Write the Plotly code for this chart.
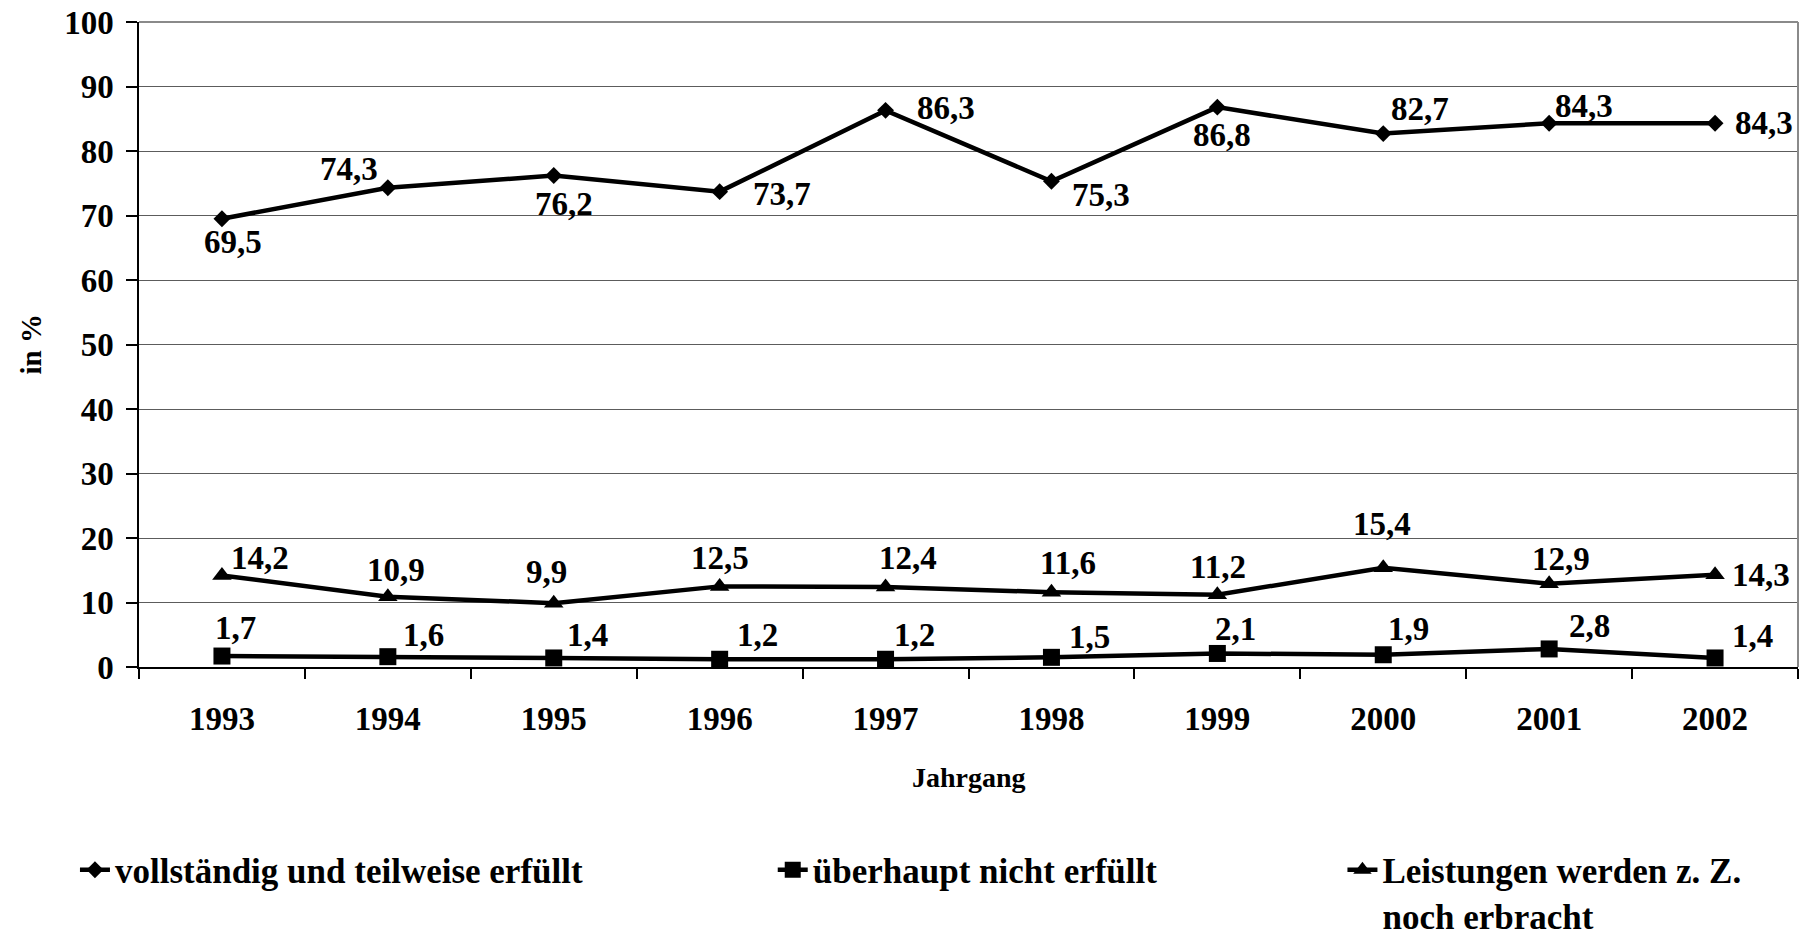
import plotly.graph_objects as go

years = ["1993", "1994", "1995", "1996", "1997", "1998", "1999", "2000", "2001", "2002"]
erfuellt = [69.5, 74.3, 76.2, 73.7, 86.3, 75.3, 86.8, 82.7, 84.3, 84.3]
nicht_erfuellt = [1.7, 1.6, 1.4, 1.2, 1.2, 1.5, 2.1, 1.9, 2.8, 1.4]
noch_erbracht = [14.2, 10.9, 9.9, 12.5, 12.4, 11.6, 11.2, 15.4, 12.9, 14.3]

names = [
    "vollständig und teilweise erfüllt",
    "überhaupt nicht erfüllt",
    "Leistungen werden z. Z.<br>noch erbracht",
]

# label offsets in pixels (dx right, dy down) per point
off_erfuellt = [(11, 23), (-39, -19), (10, 28), (62, 2), (60, -2), (50, 14), (5, 28), (37, -25), (35, -17), (49, 0)]
off_nicht = [(14, -28), (36, -22), (34, -23), (38, -24), (29, -24), (38, -20), (18, -24), (25, -26), (40, -23), (37, -22)]
off_noch = [(38, -17), (8, -27), (-7, -31), (0, -28), (22, -29), (17, -29), (1, -28), (-1, -44), (12, -25), (46, 0)]

FONT = "Liberation Serif"

fig = go.Figure()
fig.add_trace(go.Scatter(
    x=years, y=erfuellt, name=names[0], mode="lines+markers",
    line=dict(color="black", width=4.5),
    marker=dict(symbol="diamond", size=13, color="black"),
    legend="legend",
))
fig.add_trace(go.Scatter(
    x=years, y=nicht_erfuellt, name=names[1], mode="lines+markers",
    line=dict(color="black", width=4.5),
    marker=dict(symbol="square", size=17, color="black"),
    legend="legend2",
))
fig.add_trace(go.Scatter(
    x=years, y=noch_erbracht, name=names[2], mode="lines+markers",
    line=dict(color="black", width=4.5),
    marker=dict(symbol="triangle-up", size=17, color="black"),
    legend="legend3",
))


def fmt(v):
    return f"{v:.1f}".replace(".", ",")


annotations = []
for series, offs in ((erfuellt, off_erfuellt), (nicht_erfuellt, off_nicht), (noch_erbracht, off_noch)):
    for i, (v, (dx, dy)) in enumerate(zip(series, offs)):
        # category index i on the x axis
        annotations.append(dict(
            x=i, y=v, xref="x", yref="y", text=fmt(v), showarrow=False,
            xshift=dx, yshift=-dy, xanchor="center", yanchor="middle",
            font=dict(family=FONT, size=33, color="black", weight="bold"),
        ))

# axis titles
annotations.append(dict(
    x=0.5, y=-0.172, xref="paper", yref="paper", text="Jahrgang", showarrow=False,
    xanchor="center", yanchor="middle",
    font=dict(family=FONT, size=28, color="black", weight="bold"),
))
annotations.append(dict(
    x=-0.0657, y=0.5, xref="paper", yref="paper", text="in %", showarrow=False,
    xanchor="center", yanchor="middle", textangle=-90,
    font=dict(family=FONT, size=29, color="black", weight="bold"),
))

legend_font = dict(family=FONT, size=35, color="black", weight="bold")
legend_common = dict(
    orientation="v", xanchor="left", yanchor="top", bgcolor="rgba(0,0,0,0)",
    borderwidth=0, font=legend_font, valign="top", itemclick=False, itemdoubleclick=False,
)

fig.update_layout(
    width=1809, height=936,
    margin=dict(l=139, r=11, t=22, b=269, autoexpand=False),
    paper_bgcolor="white", plot_bgcolor="white",
    font=dict(family=FONT, size=33, color="black", weight="bold"),
    showlegend=True,
    legend=dict(x=-0.0386, y=-0.269, **legend_common),
    legend2=dict(x=0.382, y=-0.269, **legend_common),
    legend3=dict(x=0.7254, y=-0.269, **legend_common),
    annotations=annotations,
    shapes=[
        dict(type="line", xref="paper", yref="paper", x0=1, x1=1, y0=0, y1=1,
             line=dict(color="#8a8a8a", width=2)),
        dict(type="line", xref="paper", yref="paper", x0=0, x1=1, y0=1, y1=1,
             line=dict(color="#8a8a8a", width=2)),
    ],
)

fig.update_xaxes(
    type="category", categoryorder="array", categoryarray=years,
    range=[-0.5, len(years) - 0.5], autorange=False,
    showline=True, linecolor="black", linewidth=1.5,
    ticks="outside", tickson="boundaries", ticklen=10, tickcolor="black", tickwidth=1.5,
    showgrid=False, ticklabelstandoff=22, tickangle=0,
    tickfont=dict(family=FONT, size=33, color="black", weight="bold"),
)
fig.update_yaxes(
    range=[0, 100], dtick=10, tick0=0,
    showline=True, linecolor="black", linewidth=1.5,
    ticks="outside", ticklen=11, tickcolor="black", tickwidth=1.5,
    showgrid=True, gridcolor="#5c5c5c", gridwidth=1, zeroline=False,
    ticklabelstandoff=6,
    tickfont=dict(family=FONT, size=33, color="black", weight="bold"),
)

fig.write_html("out.html")
